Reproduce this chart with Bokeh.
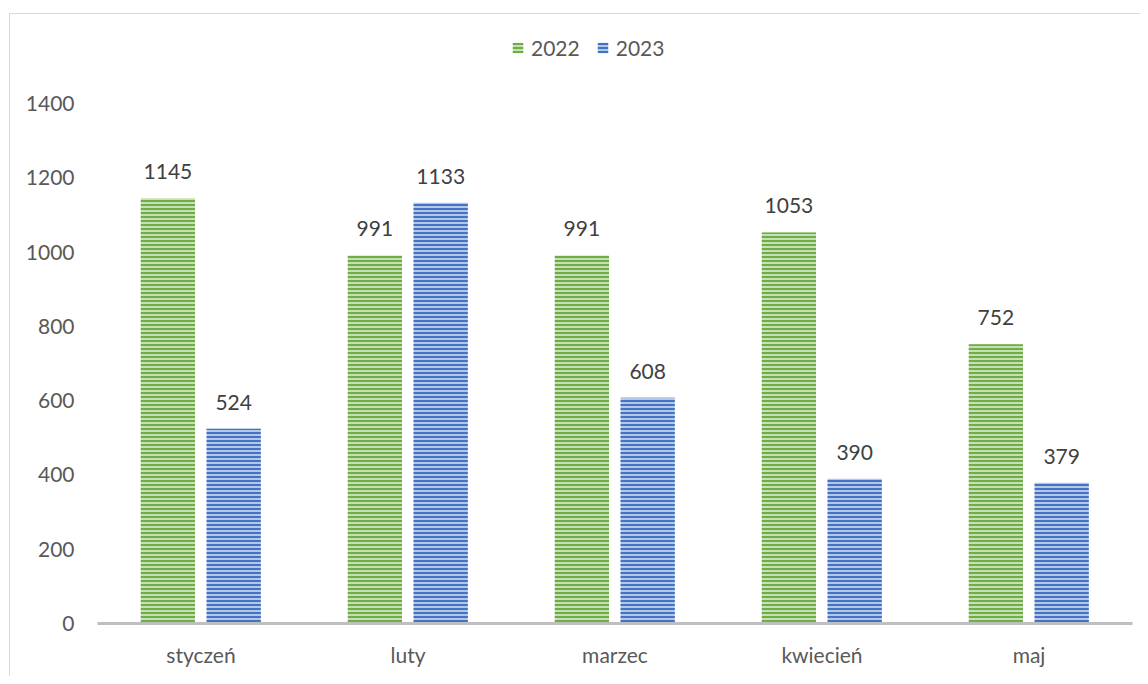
from bokeh.plotting import figure
from bokeh.models import ColumnDataSource, Legend, LegendItem, FactorRange
from bokeh.core.properties import value
from bokeh.transform import dodge
from bokeh.embed import file_html
from bokeh.resources import INLINE

months = ["styczeń", "luty", "marzec", "kwiecień", "maj"]
series_names = ["2022", "2023"]
values_2022 = [1145, 991, 991, 1053, 752]
values_2023 = [524, 1133, 608, 390, 379]
y_ticks = [0, 200, 400, 600, 800, 1000, 1200, 1400]

src = ColumnDataSource(dict(
    month=months,
    v22=values_2022,
    v23=values_2023,
    l22=[str(v) for v in values_2022],
    l23=[str(v) for v in values_2023],
))

FONT = "Lato"
TXT = "#595959"
FS = "21px"

# frame spans from just under the top border down to the axis; 1400 sits 81px below frame top
y_end = 1400 + 81 * 1400 / 520

p = figure(
    x_range=FactorRange(*months, range_padding=0),
    y_range=(0, y_end),
    width=1131, height=663,
    output_backend="svg", toolbar_location=None,
    min_border_left=87, min_border_right=9, min_border_top=8, min_border_bottom=54,
)
p.margin = (13, 0, 0, 9)
p.styles = {"border-top": "1.5px solid #d9d9d9", "border-left": "1.5px solid #d9d9d9"}
p.outline_line_color = None
p.grid.visible = False
p.background_fill_color = "white"
p.border_fill_color = "white"

g = p.vbar(x=dodge("month", -0.16, range=p.x_range), top="v22", width=0.262, source=src,
           fill_color="#c5e0b4", line_color=None,
           hatch_pattern="horizontal_line", hatch_color="#70ad47", hatch_scale=4, hatch_weight=2)
b = p.vbar(x=dodge("month", 0.158, range=p.x_range), top="v23", width=0.262, source=src,
           fill_color="#b4c7e7", line_color=None,
           hatch_pattern="horizontal_line", hatch_color="#4472c4", hatch_scale=4, hatch_weight=2)

for col, lab, off in (("v22", "l22", -0.16), ("v23", "l23", 0.158)):
    p.text(x=dodge("month", off, range=p.x_range), y=col, text=lab, source=src,
           text_align="center", text_baseline="bottom", y_offset=-19,
           text_font=value(FONT), text_font_size=FS, text_color="#404040")

p.xaxis.axis_line_color = "#bfbfbf"
p.xaxis.axis_line_width = 3
p.xaxis.major_tick_line_color = None
p.xaxis.minor_tick_line_color = None
p.xaxis.major_label_text_font = FONT
p.xaxis.major_label_text_font_size = FS
p.xaxis.major_label_text_color = TXT
p.xaxis.major_label_standoff = 12

p.yaxis.ticker = y_ticks
p.yaxis.axis_line_color = None
p.yaxis.major_tick_line_color = None
p.yaxis.minor_tick_line_color = None
p.yaxis.major_label_text_font = FONT
p.yaxis.major_label_text_font_size = FS
p.yaxis.major_label_text_color = TXT
p.yaxis.major_label_standoff = 17

legend = Legend(items=[LegendItem(label=series_names[0], renderers=[g]),
                       LegendItem(label=series_names[1], renderers=[b])],
                orientation="horizontal", location=(414, 563),
                label_text_font=FONT, label_text_font_size=FS, label_text_color=TXT,
                glyph_width=13, glyph_height=13, spacing=16, label_standoff=7,
                border_line_color=None, background_fill_alpha=0, padding=4, margin=0)
p.add_layout(legend, "center")

open("out.html", "w").write(file_html(p, INLINE))
